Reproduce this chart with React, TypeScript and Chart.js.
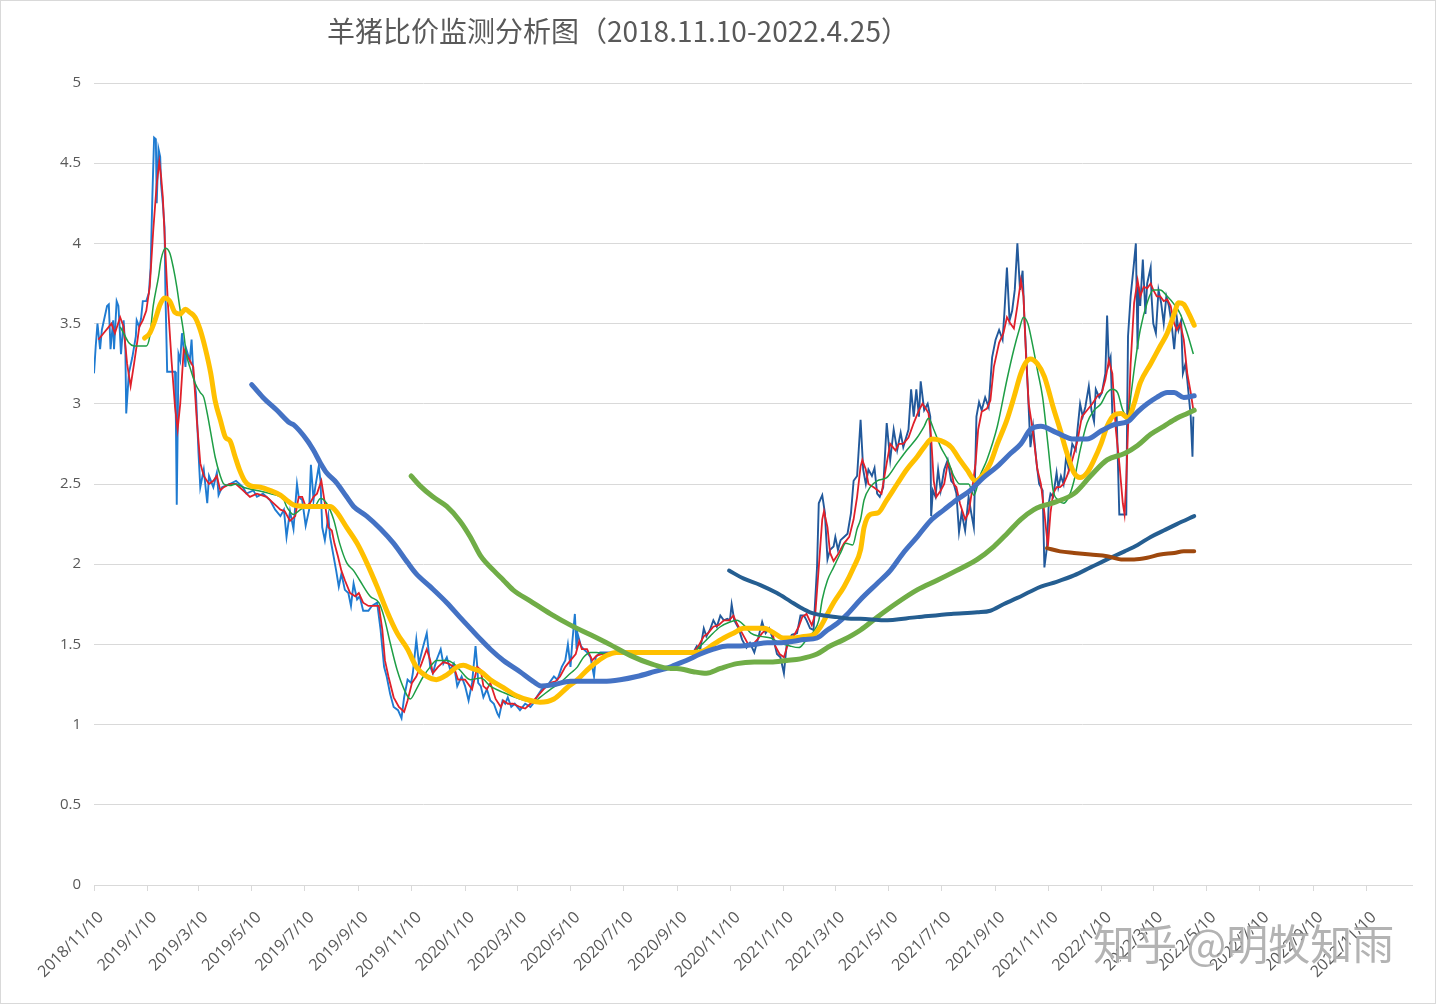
import React, { useEffect, useRef } from "react";
import { Chart, registerables } from "chart.js";

Chart.register(...registerables);

// x values are day offsets from 2018/11/10
const START = Date.UTC(2018, 10, 10);
const dayOf = (s: string) => {
  const [y, m, d] = s.split("/").map(Number);
  return Math.round((Date.UTC(y, m - 1, d) - START) / 86400000);
};

const titleText = "羊猪比价监测分析图（2018.11.10-2022.4.25）";
const watermarkText = "知乎 @明牧知雨";

const xTickLabels = [
  "2018/11/10", "2019/1/10", "2019/3/10", "2019/5/10", "2019/7/10", "2019/9/10",
  "2019/11/10", "2020/1/10", "2020/3/10", "2020/5/10", "2020/7/10", "2020/9/10",
  "2020/11/10", "2021/1/10", "2021/3/10", "2021/5/10", "2021/7/10", "2021/9/10",
  "2021/11/10", "2022/1/10", "2022/3/10", "2022/5/10", "2022/7/10", "2022/9/10",
  "2022/11/10",
];
const xAxisEnd = "2023/1/1";
const yTickStep = 0.5;
const yMax = 5;

// daily sheep/pig price ratio
const dailyRatio: [number, number][] = [
  [0, 3.19], [2, 3.36], [4, 3.5], [7, 3.34], [9, 3.46], [15, 3.61], [17, 3.62], [19, 3.34],
  [22, 3.52], [23, 3.34], [26, 3.64], [28, 3.61], [29, 3.52], [31, 3.31], [34, 3.52], [36, 3.34],
  [37, 2.94], [40, 3.19], [44, 3.29], [48, 3.42], [49, 3.52], [52, 3.48], [54, 3.53], [56, 3.64],
  [60, 3.64], [63, 3.69], [65, 3.85], [67, 4.29], [69, 4.66], [71, 4.65], [72, 4.25], [74, 4.59],
  [76, 4.54], [77, 4.37], [79, 4.25], [81, 4.1], [82, 3.69], [84, 3.2], [93, 3.2], [94, 2.9],
  [95, 2.37], [96, 2.82], [97, 3.31], [99, 3.27], [101, 3.44], [103, 3.34], [105, 3.23], [106, 3.34],
  [110, 3.27], [112, 3.4], [114, 3.19], [117, 3.07], [120, 2.69], [122, 2.48], [126, 2.59], [130, 2.38],
  [132, 2.55], [137, 2.48], [141, 2.57], [143, 2.43], [147, 2.48], [156, 2.5], [163, 2.52], [171, 2.48],
  [175, 2.44], [183, 2.46], [187, 2.42], [194, 2.44], [202, 2.4], [208, 2.34], [214, 2.3], [218, 2.34],
  [221, 2.17], [225, 2.33], [229, 2.22], [233, 2.5], [235, 2.42], [239, 2.4], [243, 2.24], [247, 2.34],
  [249, 2.62], [252, 2.4], [254, 2.48], [258, 2.61], [260, 2.52], [262, 2.23], [265, 2.15], [269, 2.3],
  [271, 2.17], [275, 2.05], [278, 1.96], [281, 1.86], [284, 1.94], [288, 1.84], [292, 1.82], [295, 1.74],
  [298, 1.88], [302, 1.78], [305, 1.8], [309, 1.71], [315, 1.71], [319, 1.74], [325, 1.76], [329, 1.59],
  [333, 1.36], [336, 1.3], [340, 1.19], [344, 1.11], [349, 1.09], [353, 1.04], [356, 1.17], [360, 1.28],
  [364, 1.26], [366, 1.32], [370, 1.53], [373, 1.38], [377, 1.47], [382, 1.57], [386, 1.36], [389, 1.32],
  [393, 1.4], [398, 1.47], [401, 1.38], [405, 1.42], [409, 1.34], [413, 1.38], [417, 1.24], [422, 1.3],
  [426, 1.24], [430, 1.15], [434, 1.26], [438, 1.49], [440, 1.36], [441, 1.26], [444, 1.24], [447, 1.17],
  [451, 1.22], [455, 1.15], [459, 1.13], [463, 1.07], [465, 1.05], [469, 1.15], [472, 1.13], [475, 1.17],
  [479, 1.11], [483, 1.13], [489, 1.09], [495, 1.13], [501, 1.11], [504, 1.13], [508, 1.17], [514, 1.22],
  [520, 1.24], [528, 1.3], [532, 1.28], [537, 1.36], [541, 1.4], [544, 1.5], [547, 1.36], [549, 1.51],
  [552, 1.69], [554, 1.47], [555, 1.57], [559, 1.49], [562, 1.47], [566, 1.45], [570, 1.42], [574, 1.3],
  [576, 1.42], [581, 1.45], [588, 1.45], [688, 1.45], [692, 1.49], [696, 1.47], [700, 1.6], [703, 1.55],
  [707, 1.59], [711, 1.65], [715, 1.61], [719, 1.68], [723, 1.65], [727, 1.66], [730, 1.65], [732, 1.75],
  [735, 1.65], [740, 1.6], [744, 1.53], [749, 1.48], [753, 1.51], [758, 1.45], [763, 1.55], [767, 1.64],
  [771, 1.57], [775, 1.6], [781, 1.51], [784, 1.44], [788, 1.42], [792, 1.32], [795, 1.49], [801, 1.56],
  [807, 1.57], [811, 1.68], [815, 1.68], [818, 1.65], [822, 1.6], [826, 1.59], [830, 1.98], [832, 2.38],
  [836, 2.43], [839, 2.32], [842, 2.03], [845, 2.09], [849, 2.11], [851, 2.17], [854, 2.09], [857, 2.15],
  [861, 2.17], [865, 2.19], [869, 2.32], [872, 2.52], [876, 2.55], [880, 2.9], [883, 2.59], [886, 2.5],
  [889, 2.59], [893, 2.55], [896, 2.6], [899, 2.44], [902, 2.42], [906, 2.48], [910, 2.88], [914, 2.65],
  [918, 2.84], [922, 2.71], [926, 2.82], [929, 2.73], [935, 2.84], [938, 3.09], [941, 2.92], [944, 3.09],
  [947, 2.92], [949, 3.14], [953, 2.96], [957, 3.0], [960, 2.92], [961, 2.3], [963, 2.46], [966, 2.42],
  [969, 2.59], [972, 2.46], [976, 2.59], [980, 2.65], [984, 2.52], [987, 2.5], [990, 2.44], [993, 2.2],
  [996, 2.32], [1000, 2.21], [1004, 2.42], [1007, 2.32], [1010, 2.23], [1013, 2.92], [1016, 3.01], [1019, 2.96],
  [1023, 3.04], [1027, 2.98], [1031, 3.29], [1035, 3.4], [1039, 3.46], [1043, 3.4], [1045, 3.56], [1048, 3.85],
  [1051, 3.52], [1054, 3.58], [1057, 3.71], [1060, 4.0], [1063, 3.71], [1066, 3.83], [1068, 3.54], [1072, 3.09],
  [1075, 2.73], [1078, 2.86], [1082, 2.63], [1085, 2.5], [1089, 2.46], [1091, 1.98], [1094, 2.11], [1096, 2.38],
  [1098, 2.44], [1101, 2.42], [1105, 2.57], [1107, 2.48], [1110, 2.55], [1113, 2.5], [1116, 2.67], [1119, 2.59],
  [1123, 2.75], [1127, 2.71], [1129, 2.84], [1132, 3.0], [1135, 2.92], [1138, 2.98], [1142, 3.11], [1145, 2.96],
  [1148, 2.89], [1150, 3.09], [1154, 3.04], [1157, 3.07], [1161, 3.19], [1163, 3.55], [1165, 3.25], [1167, 3.29],
  [1169, 2.94], [1174, 2.92], [1177, 2.31], [1185, 2.31], [1186, 2.92], [1187, 3.42], [1190, 3.67], [1193, 3.83],
  [1196, 4.0], [1198, 3.34], [1199, 3.73], [1201, 3.61], [1204, 3.9], [1207, 3.56], [1209, 3.75], [1213, 3.85],
  [1214, 3.67], [1216, 3.5], [1219, 3.44], [1222, 3.71], [1225, 3.63], [1228, 3.5], [1231, 3.67], [1234, 3.61],
  [1237, 3.5], [1240, 3.34], [1243, 3.54], [1245, 3.46], [1248, 3.52], [1250, 3.19], [1253, 3.25], [1255, 3.15],
  [1259, 2.92], [1261, 2.67], [1262, 2.92],
];

// short moving average (red)
const maShort: [number, number][] = [
  [5, 3.4], [11, 3.44], [17, 3.48], [20, 3.5], [24, 3.44], [30, 3.54], [34, 3.48], [38, 3.25],
  [42, 3.11], [46, 3.25], [50, 3.4], [52, 3.48], [56, 3.52], [60, 3.58], [64, 3.73], [68, 4.08],
  [72, 4.37], [75, 4.51], [77, 4.42], [79, 4.29], [82, 3.94], [85, 3.61], [89, 3.27], [93, 2.98],
  [96, 2.84], [99, 3.0], [103, 3.34], [106, 3.31], [110, 3.27], [114, 3.23], [118, 2.9], [122, 2.63],
  [126, 2.55], [132, 2.5], [137, 2.52], [141, 2.55], [145, 2.46], [149, 2.48], [156, 2.5], [163, 2.5],
  [171, 2.46], [179, 2.42], [187, 2.44], [198, 2.42], [210, 2.36], [214, 2.34], [219, 2.33], [225, 2.27],
  [231, 2.3], [235, 2.42], [239, 2.42], [243, 2.36], [248, 2.38], [252, 2.42], [256, 2.44], [261, 2.52],
  [265, 2.38], [269, 2.23], [273, 2.21], [276, 2.13], [280, 2.05], [284, 1.96], [288, 1.9], [294, 1.82],
  [300, 1.8], [304, 1.82], [309, 1.76], [315, 1.74], [321, 1.74], [327, 1.74], [331, 1.59], [334, 1.4],
  [338, 1.3], [344, 1.17], [350, 1.11], [356, 1.08], [360, 1.15], [365, 1.26], [370, 1.3], [376, 1.38],
  [382, 1.47], [386, 1.4], [389, 1.32], [395, 1.36], [401, 1.39], [407, 1.38], [413, 1.36], [418, 1.28],
  [426, 1.28], [434, 1.22], [440, 1.36], [444, 1.34], [447, 1.24], [451, 1.22], [455, 1.26], [461, 1.16],
  [467, 1.11], [470, 1.15], [475, 1.13], [481, 1.13], [489, 1.11], [495, 1.1], [501, 1.13], [508, 1.17],
  [516, 1.22], [524, 1.26], [530, 1.27], [535, 1.3], [541, 1.36], [547, 1.4], [553, 1.44], [557, 1.52],
  [560, 1.47], [566, 1.47], [572, 1.4], [577, 1.43], [583, 1.44], [596, 1.45], [688, 1.45], [694, 1.49],
  [700, 1.55], [705, 1.57], [711, 1.61], [717, 1.62], [723, 1.65], [729, 1.65], [734, 1.68], [738, 1.63],
  [744, 1.57], [750, 1.51], [754, 1.49], [758, 1.51], [763, 1.54], [767, 1.57], [773, 1.6], [779, 1.57],
  [782, 1.49], [787, 1.44], [792, 1.42], [797, 1.51], [803, 1.55], [809, 1.61], [813, 1.67], [818, 1.69],
  [824, 1.62], [828, 1.69], [832, 1.98], [836, 2.28], [838, 2.33], [842, 2.23], [845, 2.07], [849, 2.02],
  [855, 2.07], [861, 2.13], [867, 2.17], [872, 2.28], [876, 2.42], [880, 2.61], [882, 2.65], [886, 2.59],
  [889, 2.5], [895, 2.48], [900, 2.46], [904, 2.44], [910, 2.63], [914, 2.75], [920, 2.71], [924, 2.75],
  [929, 2.75], [935, 2.79], [941, 2.88], [947, 2.96], [951, 3.0], [955, 2.97], [958, 2.94], [961, 2.79],
  [964, 2.52], [967, 2.42], [972, 2.46], [976, 2.5], [980, 2.63], [984, 2.59], [987, 2.5], [990, 2.48],
  [994, 2.38], [1000, 2.28], [1004, 2.32], [1008, 2.46], [1012, 2.63], [1015, 2.84], [1019, 2.95], [1025, 2.97],
  [1029, 3.02], [1033, 3.23], [1039, 3.38], [1044, 3.44], [1048, 3.54], [1052, 3.5], [1056, 3.47], [1060, 3.61],
  [1064, 3.77], [1067, 3.67], [1070, 3.29], [1073, 3.0], [1077, 2.86], [1083, 2.59], [1087, 2.5], [1091, 2.32],
  [1095, 2.11], [1098, 2.32], [1101, 2.44], [1105, 2.48], [1109, 2.48], [1113, 2.5], [1117, 2.55], [1123, 2.65],
  [1129, 2.77], [1134, 2.92], [1140, 2.96], [1146, 3.0], [1152, 3.05], [1157, 3.07], [1161, 3.15], [1165, 3.27],
  [1169, 3.19], [1173, 2.84], [1177, 2.63], [1181, 2.38], [1183, 2.31], [1185, 2.52], [1187, 2.84], [1190, 3.25],
  [1194, 3.63], [1198, 3.77], [1201, 3.67], [1205, 3.73], [1209, 3.72], [1213, 3.75], [1216, 3.71], [1220, 3.67],
  [1224, 3.67], [1228, 3.64], [1232, 3.65], [1236, 3.61], [1240, 3.5], [1243, 3.46], [1247, 3.5], [1251, 3.4],
  [1255, 3.19], [1259, 3.07], [1262, 2.96],
];

// ~30-day moving average (thin green)
const maMonth: [number, number][] = [
  [30, 3.48], [34, 3.44], [40, 3.38], [46, 3.36], [52, 3.36], [60, 3.36], [64, 3.42], [68, 3.61],
  [74, 3.79], [77, 3.9], [82, 3.97], [87, 3.94], [91, 3.85], [95, 3.73], [99, 3.58], [103, 3.44],
  [106, 3.31], [110, 3.23], [116, 3.13], [122, 3.07], [126, 3.04], [130, 2.94], [134, 2.82], [139, 2.67],
  [145, 2.55], [149, 2.5], [156, 2.49], [163, 2.5], [171, 2.48], [187, 2.46], [202, 2.44], [218, 2.4],
  [221, 2.36], [229, 2.31], [237, 2.34], [245, 2.36], [252, 2.35], [260, 2.41], [267, 2.38], [275, 2.28],
  [282, 2.13], [290, 2.01], [298, 1.96], [305, 1.9], [317, 1.8], [327, 1.76], [333, 1.67], [340, 1.51],
  [348, 1.34], [356, 1.22], [363, 1.16], [370, 1.22], [378, 1.3], [386, 1.36], [393, 1.4], [405, 1.4],
  [413, 1.38], [420, 1.34], [432, 1.28], [444, 1.29], [455, 1.24], [470, 1.2], [489, 1.16], [504, 1.14],
  [512, 1.17], [524, 1.22], [535, 1.26], [547, 1.32], [555, 1.36], [562, 1.42], [570, 1.45], [577, 1.45],
  [588, 1.44], [688, 1.45], [696, 1.49], [707, 1.55], [719, 1.61], [730, 1.64], [738, 1.65], [746, 1.62],
  [754, 1.57], [765, 1.55], [777, 1.54], [787, 1.51], [799, 1.49], [809, 1.48], [818, 1.53], [826, 1.58],
  [832, 1.65], [836, 1.78], [842, 1.9], [849, 1.98], [857, 2.07], [863, 2.13], [871, 2.12], [876, 2.22],
  [880, 2.28], [884, 2.4], [891, 2.48], [899, 2.52], [910, 2.54], [922, 2.63], [933, 2.71], [945, 2.79],
  [953, 2.86], [958, 2.91], [964, 2.84], [972, 2.73], [980, 2.65], [987, 2.55], [994, 2.5], [1004, 2.5],
  [1010, 2.43], [1017, 2.55], [1025, 2.65], [1037, 2.86], [1048, 3.15], [1056, 3.34], [1062, 3.46], [1067, 3.54],
  [1072, 3.5], [1077, 3.38], [1083, 3.21], [1089, 3.04], [1095, 2.75], [1101, 2.46], [1107, 2.4], [1113, 2.38],
  [1119, 2.42], [1125, 2.52], [1132, 2.71], [1140, 2.88], [1148, 2.96], [1156, 3.0], [1163, 3.07], [1169, 3.09],
  [1175, 3.07], [1181, 2.96], [1187, 2.92], [1190, 3.04], [1195, 3.25], [1201, 3.46], [1209, 3.63], [1216, 3.71],
  [1224, 3.71], [1232, 3.67], [1240, 3.62], [1247, 3.56], [1255, 3.44], [1262, 3.31],
];

// ~60-day moving average (thick yellow)
const maQuarter: [number, number][] = [
  [58, 3.41], [64, 3.44], [70, 3.52], [76, 3.62], [81, 3.66], [87, 3.64], [93, 3.57], [99, 3.56],
  [105, 3.59], [110, 3.57], [116, 3.54], [122, 3.46], [128, 3.34], [134, 3.19], [139, 3.02], [145, 2.9],
  [151, 2.79], [156, 2.77], [162, 2.67], [167, 2.59], [173, 2.52], [179, 2.49], [191, 2.48], [202, 2.46],
  [214, 2.43], [221, 2.4], [229, 2.37], [245, 2.36], [260, 2.36], [271, 2.36], [278, 2.33], [290, 2.23],
  [302, 2.13], [313, 2.01], [325, 1.86], [336, 1.71], [348, 1.57], [360, 1.47], [370, 1.36], [382, 1.3],
  [393, 1.28], [405, 1.31], [417, 1.36], [424, 1.37], [434, 1.35], [444, 1.33], [455, 1.28], [470, 1.23],
  [485, 1.18], [501, 1.15], [512, 1.14], [528, 1.16], [543, 1.23], [555, 1.28], [566, 1.34], [577, 1.39],
  [588, 1.43], [600, 1.45], [616, 1.45], [688, 1.45], [700, 1.46], [711, 1.5], [723, 1.54], [734, 1.57],
  [746, 1.6], [758, 1.6], [769, 1.6], [781, 1.57], [791, 1.54], [803, 1.54], [815, 1.55], [826, 1.56],
  [834, 1.61], [842, 1.69], [849, 1.76], [861, 1.86], [872, 1.98], [880, 2.09], [884, 2.23], [891, 2.31],
  [900, 2.32], [910, 2.4], [922, 2.5], [933, 2.59], [945, 2.67], [953, 2.73], [962, 2.78], [972, 2.77],
  [984, 2.73], [994, 2.65], [1002, 2.59], [1012, 2.52], [1021, 2.56], [1029, 2.63], [1037, 2.75], [1048, 2.9],
  [1056, 3.04], [1064, 3.19], [1070, 3.26], [1075, 3.28], [1083, 3.25], [1091, 3.17], [1098, 3.04], [1101, 2.98],
  [1109, 2.84], [1117, 2.69], [1125, 2.57], [1132, 2.54], [1140, 2.57], [1148, 2.65], [1156, 2.75], [1163, 2.86],
  [1171, 2.93], [1179, 2.94], [1187, 2.91], [1194, 3.0], [1201, 3.13], [1213, 3.25], [1224, 3.36], [1232, 3.44],
  [1240, 3.56], [1245, 3.63], [1251, 3.62], [1257, 3.56], [1263, 3.49],
];

// ~180-day moving average (thick blue)
const maHalfYear: [number, number][] = [
  [181, 3.12], [194, 3.04], [210, 2.96], [225, 2.88], [229, 2.87], [245, 2.77], [252, 2.71], [260, 2.63],
  [267, 2.57], [278, 2.51], [290, 2.42], [298, 2.36], [313, 2.3], [329, 2.22], [344, 2.13], [360, 2.01],
  [370, 1.94], [386, 1.86], [405, 1.76], [420, 1.67], [432, 1.6], [444, 1.53], [455, 1.47], [470, 1.4],
  [489, 1.33], [504, 1.27], [514, 1.24], [528, 1.25], [547, 1.27], [566, 1.27], [585, 1.27], [604, 1.28],
  [623, 1.3], [643, 1.33], [662, 1.36], [666, 1.37], [680, 1.4], [696, 1.44], [711, 1.47], [727, 1.49],
  [742, 1.49], [758, 1.5], [773, 1.51], [787, 1.51], [803, 1.52], [815, 1.53], [830, 1.54], [842, 1.59],
  [853, 1.63], [865, 1.69], [880, 1.78], [899, 1.88], [914, 1.96], [929, 2.07], [945, 2.17], [960, 2.27],
  [976, 2.34], [990, 2.4], [1006, 2.46], [1021, 2.54], [1037, 2.61], [1052, 2.69], [1064, 2.75], [1075, 2.84],
  [1087, 2.86], [1105, 2.82], [1125, 2.78], [1140, 2.78], [1156, 2.83], [1171, 2.87], [1187, 2.89], [1198, 2.95],
  [1209, 3.0], [1220, 3.04], [1232, 3.07], [1240, 3.07], [1251, 3.04], [1263, 3.05],
];

// ~365-day moving average (thick green)
const maYear: [number, number][] = [
  [364, 2.55], [374, 2.49], [389, 2.42], [405, 2.36], [420, 2.27], [432, 2.17], [444, 2.05], [459, 1.96],
  [470, 1.9], [481, 1.84], [501, 1.77], [524, 1.69], [547, 1.62], [570, 1.56], [592, 1.5], [616, 1.43],
  [639, 1.38], [662, 1.35], [669, 1.35], [688, 1.33], [703, 1.32], [719, 1.35], [738, 1.38], [758, 1.39],
  [777, 1.39], [795, 1.4], [811, 1.41], [830, 1.44], [845, 1.49], [861, 1.53], [880, 1.59], [899, 1.67],
  [922, 1.76], [945, 1.84], [968, 1.9], [990, 1.96], [1014, 2.03], [1033, 2.11], [1048, 2.19], [1064, 2.28],
  [1079, 2.34], [1087, 2.36], [1105, 2.39], [1125, 2.44], [1144, 2.55], [1163, 2.65], [1183, 2.69], [1198, 2.74],
  [1213, 2.81], [1228, 2.86], [1243, 2.91], [1255, 2.94], [1263, 2.96],
];

// ~730-day moving average (dark blue)
const maTwoYear: [number, number][] = [
  [729, 1.96], [746, 1.91], [765, 1.87], [784, 1.82], [799, 1.77], [811, 1.73], [822, 1.7], [838, 1.68],
  [853, 1.67], [869, 1.66], [880, 1.66], [906, 1.65], [945, 1.67], [984, 1.69], [1014, 1.7], [1029, 1.71],
  [1044, 1.75], [1060, 1.79], [1075, 1.83], [1087, 1.86], [1105, 1.89], [1125, 1.93], [1144, 1.98], [1163, 2.03],
  [1183, 2.08], [1198, 2.12], [1213, 2.17], [1228, 2.21], [1243, 2.25], [1263, 2.3],
];

// ~1095-day moving average (brown)
const maThreeYear: [number, number][] = [
  [1094, 2.1], [1109, 2.08], [1125, 2.07], [1144, 2.06], [1163, 2.05], [1179, 2.03], [1194, 2.03], [1209, 2.04],
  [1224, 2.06], [1240, 2.07], [1251, 2.08], [1263, 2.08],
];

const TEXT = "#595959";
const GRID = "#d9d9d9";
const FONT = "'Open Sans', 'Noto Sans', sans-serif";

export default function App() {
  const ref = useRef<HTMLCanvasElement>(null);

  useEffect(() => {
    document.body.style.margin = "0";
    const canvas = ref.current;
    if (!canvas) return;
    const tickDays = xTickLabels.map(dayOf);
    const labelByDay = new Map<number, string>(tickDays.map((d, i) => [d, xTickLabels[i]]));
    const toXY = (arr: [number, number][]) => arr.map(([x, y]) => ({ x, y }));

    const thick = (data: [number, number][], color: string, width: number, order: number) => ({
      data: toXY(data),
      borderColor: color,
      borderWidth: width,
      cubicInterpolationMode: "monotone" as const,
      borderCapStyle: "round" as const,
      borderJoinStyle: "round" as const,
      pointRadius: 0,
      order,
    });

    const chart = new Chart(canvas, {
      type: "line",
      data: {
        datasets: [
          {
            data: toXY(dailyRatio),
            borderWidth: 1.9,
            tension: 0,
            pointRadius: 0,
            borderColor: "#1f7bd1",
            segment: {
              borderColor: (c: any) => (c.p0.parsed.x < 640 ? "#1f7bd1" : "#22599b"),
            },
            order: 8,
          },
          { data: toXY(maShort), borderColor: "#e0202a", borderWidth: 1.8, tension: 0, pointRadius: 0, order: 7 },
          {
            data: toXY(maMonth),
            borderColor: "#1e9e45",
            borderWidth: 1.5,
            cubicInterpolationMode: "monotone",
            pointRadius: 0,
            order: 6,
          },
          thick(maQuarter, "#ffc000", 5, 5),
          thick(maHalfYear, "#4472c4", 5, 4),
          thick(maYear, "#70ad47", 5, 3),
          thick(maTwoYear, "#255e91", 4, 2),
          thick(maThreeYear, "#9e480e", 4, 1),
        ] as any,
      },
      options: {
        animation: false,
        responsive: false,
        devicePixelRatio: 1,
        layout: { padding: { top: 83, right: 24, bottom: 0, left: 0 } },
        plugins: {
          legend: { display: false },
          tooltip: { enabled: false },
          title: { display: false },
        },
        elements: { point: { radius: 0 } },
        scales: {
          x: {
            type: "linear",
            min: 0,
            max: dayOf(xAxisEnd),
            afterBuildTicks: (s: any) => {
              s.ticks = tickDays.map((v) => ({ value: v }));
            },
            afterFit: (s: any) => {
              s.height = 119;
            },
            ticks: {
              autoSkip: false,
              minRotation: 45,
              maxRotation: 45,
              padding: 17,
              labelOffset: 7,
              color: TEXT,
              font: { family: FONT, size: 16 },
              callback: (v: any) => labelByDay.get(Number(v)) ?? "",
            },
            grid: { drawOnChartArea: false, drawTicks: true, tickLength: 6, color: GRID },
            border: { display: true, color: GRID },
          },
          y: {
            min: 0,
            max: yMax,
            afterFit: (s: any) => {
              s.width = 94;
            },
            ticks: {
              stepSize: yTickStep,
              padding: 13,
              color: TEXT,
              font: { family: FONT, size: 15 },
              callback: (v: any) => String(Number(v)),
            },
            grid: { color: GRID, drawTicks: false },
            border: { display: false },
          },
        },
      } as any,
    });
    return () => chart.destroy();
  }, []);

  return (
    <div style={{ position: "relative", width: 1436, height: 1004, background: "#fff", overflow: "hidden" }}>
      <canvas ref={ref} width={1436} height={1004} style={{ display: "block" }} />
      <div
        style={{
          position: "absolute",
          left: 327,
          top: 16,
          fontFamily: "'Noto Sans CJK SC', 'Open Sans', sans-serif",
          fontSize: 28,
          lineHeight: 1,
          color: TEXT,
          whiteSpace: "nowrap",
        }}
      >
        {titleText}
      </div>
      <div
        style={{
          position: "absolute",
          left: 1093,
          top: 921,
          fontFamily: "'Noto Sans CJK SC', sans-serif",
          fontSize: 42,
          lineHeight: 1,
          color: "rgba(150,150,150,0.72)",
          textShadow: "1px 1px 0 rgba(255,255,255,0.9)",
          whiteSpace: "nowrap",
        }}
      >
        {watermarkText}
      </div>
      <div
        style={{
          position: "absolute",
          left: 0,
          top: 0,
          width: 1436,
          height: 1004,
          boxSizing: "border-box",
          border: `1px solid ${GRID}`,
          pointerEvents: "none",
        }}
      />
    </div>
  );
}
